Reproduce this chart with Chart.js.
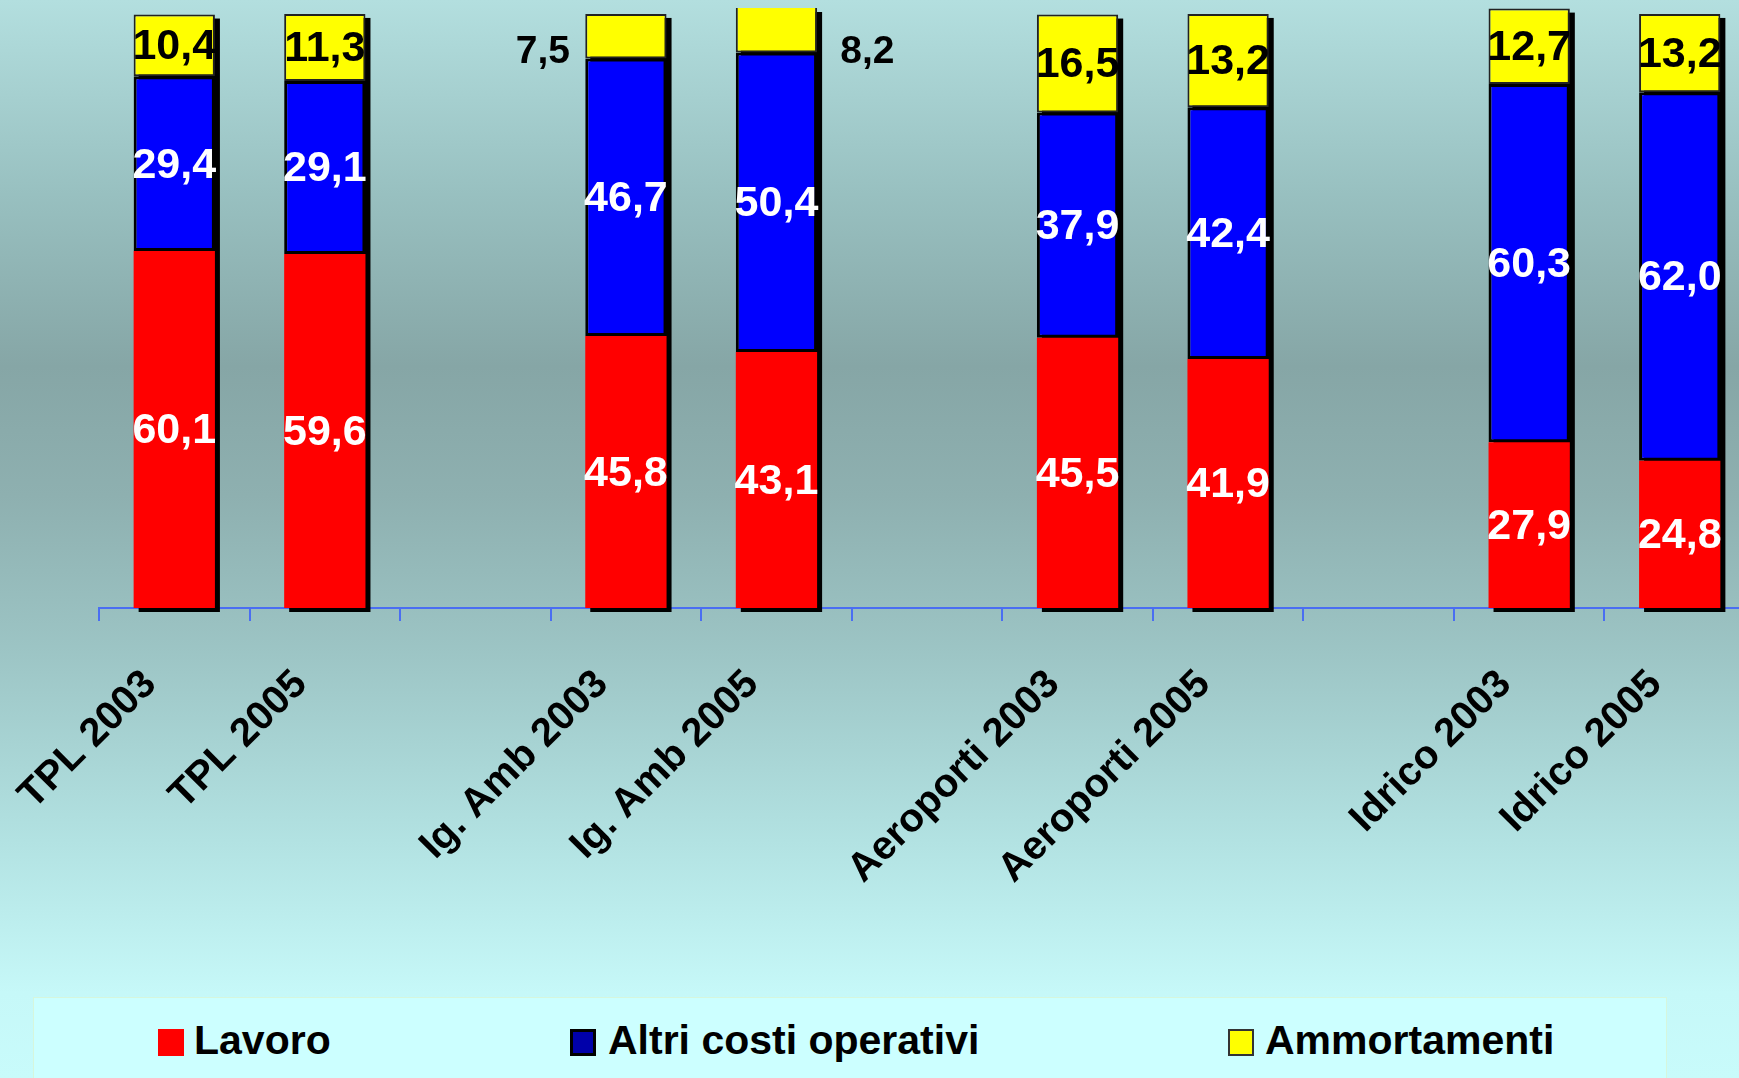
<!DOCTYPE html>
<html>
<head>
<meta charset="utf-8">
<script src="https://cdn.jsdelivr.net/npm/chart.js@4.4.0/dist/chart.umd.min.js"></script>
<style>
  html, body { margin: 0; padding: 0; width: 1739px; height: 1078px; overflow: hidden; }
  body {
    background: linear-gradient(to bottom, #b3dfdf 0%, #98c0c0 18%, #86a6a6 34%, #8eb0b0 46%, #9cc4c4 60%, #b2e2e2 78%, #c6f8f8 92%, #c8fbfb 100%);
    font-family: 'Liberation Sans', Arial, sans-serif;
  }
  #wrap { position: absolute; left: 0; top: 0; width: 1755px; height: 998px; }
  #legenda {
    position: absolute; left: 33px; top: 997px; width: 1634px; height: 90px;
    background: #ccffff; border: 1px solid #d6f6dc; box-sizing: border-box;
  }
  .voce { position: absolute; top: 22px; font-weight: bold; font-size: 41px; color: #000; line-height: 41px; white-space: nowrap; }
  .quad { position: absolute; top: 31px; width: 26px; height: 27px; box-sizing: border-box; }
</style>
</head>
<body>
<div id="wrap"><canvas id="chart"></canvas></div>
<div id="legenda">
  <div class="quad" style="left:124px;background:#ff0000;"></div>
  <div class="voce" style="left:160px;">Lavoro</div>
  <div class="quad" style="left:536px;background:#0000aa;border:3px solid #000;"></div>
  <div class="voce" style="left:574px;">Altri costi operativi</div>
  <div class="quad" style="left:1194px;background:#ffff00;border:2px solid #333;"></div>
  <div class="voce" style="left:1231px;">Ammortamenti</div>
</div>
<script>
(function () {

  // categorie (le vuote fanno da spazio tra i gruppi)
  var categorie = ['TPL 2003', 'TPL 2005', '', 'Ig. Amb 2003', 'Ig. Amb 2005', '',
                   'Aeroporti 2003', 'Aeroporti 2005', '', 'Idrico 2003', 'Idrico 2005'];

  var lavoro = [60.1, 59.6, null, 45.8, 43.1, null, 45.5, 41.9, null, 27.9, 24.8];
  var altriCosti = [29.4, 29.1, null, 46.7, 50.4, null, 37.9, 42.4, null, 60.3, 62.0];
  // altezza delle barre gialle come disegnate
  var ammortamenti = [10.4, 11.3, null, 7.5, 8.2, null, 16.5, 15.7, null, 12.7, 13.2];
  // valori scritti sulle barre gialle
  var ammortamentiEtichette = [10.4, 11.3, null, 7.5, 8.2, null, 16.5, 13.2, null, 12.7, 13.2];

  var FONT = "'Liberation Sans', Arial, sans-serif";

  // ombra nera a destra/sotto di ogni colonna
  var ombraPlugin = {
    id: 'ombra',
    beforeDatasetsDraw: function (chart) {
      var ctx = chart.ctx, area = chart.chartArea;
      var basso = chart.getDatasetMeta(0).data;
      var alto = chart.getDatasetMeta(2).data;
      ctx.save();
      ctx.beginPath();
      ctx.rect(area.left, area.top, area.right - area.left, area.bottom - area.top + 10);
      ctx.clip();
      ctx.fillStyle = '#000';
      for (var i = 0; i < basso.length; i++) {
        if (lavoro[i] == null) continue;
        var b = basso[i], t = alto[i];
        var top = Math.max(t.y, area.top);
        ctx.fillRect(b.x - b.width / 2 + 5, top + 4, b.width, b.base - top);
      }
      ctx.restore();
    }
  };

  // valori dentro le barre
  var etichettePlugin = {
    id: 'etichette',
    afterDatasetsDraw: function (chart) {
      var ctx = chart.ctx, area = chart.chartArea;
      ctx.save();
      ctx.textAlign = 'center';
      ctx.textBaseline = 'middle';
      // spostamenti per le etichette gialle esterne (Ig. Amb)
      var fuori = { 3: -83, 4: 91 };
      chart.data.datasets.forEach(function (ds, d) {
        var meta = chart.getDatasetMeta(d);
        meta.data.forEach(function (el, i) {
          var v = d === 2 ? ammortamentiEtichette[i] : ds.data[i];
          if (v == null) return;
          var testo = v.toFixed(1).replace('.', ',');
          var top = Math.max(el.y, area.top);
          var y = (top + el.base) / 2;
          var x = el.x;
          if (d === 2 && fuori[i] !== undefined) {
            x = el.x + fuori[i];
            y = area.top + 42;
            ctx.font = 'bold 39px ' + FONT;
          } else {
            ctx.font = 'bold 43px ' + FONT;
          }
          ctx.fillStyle = d === 2 ? '#000' : '#fff';
          ctx.fillText(testo, x, y + 2);
        });
      });
      ctx.restore();
    }
  };

  new Chart('chart', {
    type: 'bar',
    data: {
      labels: categorie,
      datasets: [
        { label: 'Lavoro', data: lavoro, backgroundColor: '#ff0000', borderWidth: 0 },
        { label: 'Altri costi operativi', data: altriCosti, backgroundColor: '#0000ff',
          borderColor: '#000', borderWidth: 3, borderSkipped: false },
        { label: 'Ammortamenti', data: ammortamenti, backgroundColor: '#ffff00',
          borderColor: '#222', borderWidth: 2, borderSkipped: false }
      ]
    },
    options: {
      responsive: true,
      maintainAspectRatio: false,
      animation: false,
      events: [],
      barPercentage: 1,
      categoryPercentage: 0.54,
      layout: { padding: { left: 99, top: 8, right: 0, bottom: 0 } },
      plugins: { legend: { display: false }, tooltip: { enabled: false } },
      scales: {
        x: {
          stacked: true,
          z: 1,
          grid: { display: true, drawOnChartArea: false, drawTicks: true, tickLength: 13,
                  color: '#4a6ef2', lineWidth: 2, offset: true },
          border: { display: true, color: '#4a6ef2', width: 2 },
          ticks: {
            autoSkip: false, minRotation: 45, maxRotation: 45, padding: 40, labelOffset: -24,
            color: '#000', font: { family: FONT, size: 40, weight: 'bold' }
          },
          afterFit: function (scale) { scale.height = 390; }
        },
        y: {
          stacked: true, display: false, min: 0, max: 101
        }
      }
    },
    plugins: [ombraPlugin, etichettePlugin]
  });
})();
</script>
</body>
</html>
